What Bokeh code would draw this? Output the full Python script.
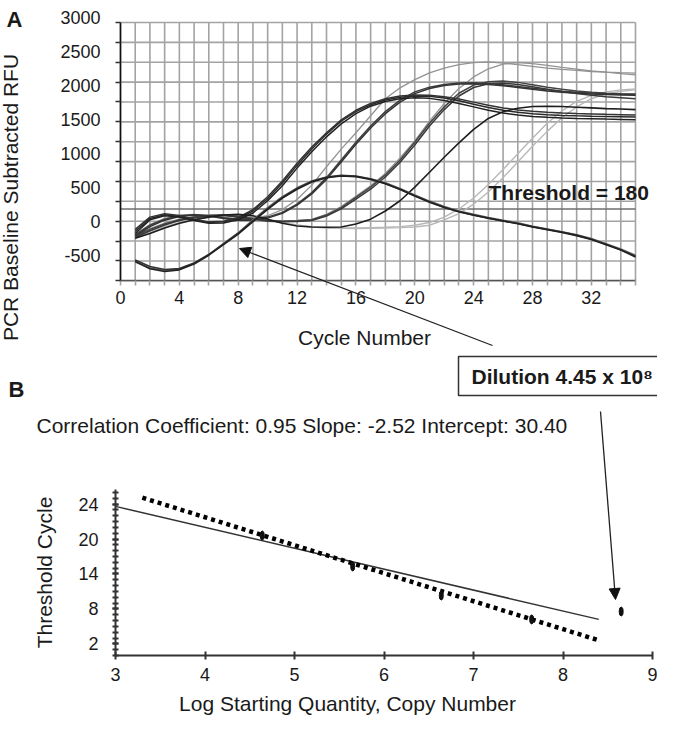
import math
from bokeh.plotting import figure
from bokeh.layouts import column
from bokeh.models import FixedTicker, Label, Arrow, NormalHead, Range1d, LinearAxis
from bokeh.embed import file_html
from bokeh.resources import INLINE

FONT = "Liberation Sans"

# ---------------- Panel A data: amplification curves ----------------
cycles = list(range(1, 36))

hump_a = [-600, -690, -725, -705, -620, -490, -330, -170, 20, 200, 360, 490, 590, 650, 675, 665, 625, 565, 480, 385,
          295, 215, 150, 100, 55, 15, -25, -75, -115, -155, -200, -255, -330, -410, -500]
hump_b = [-570, -665, -710, -695, -615, -490, -335, -180, 5, 185, 345, 480, 585, 645, 670, 660, 620, 555, 470, 375,
          285, 205, 140, 90, 45, 5, -35, -80, -120, -160, -205, -265, -340, -420, -515]
hump_c = [-590, -700, -740, -715, -630, -500, -345, -190, -5, 175, 340, 470, 575, 640, 665, 655, 612, 550, 465, 370,
          280, 200, 138, 88, 42, 2, -38, -85, -125, -165, -212, -270, -345, -425, -525]

early_a = [-150, 40, 95, 70, 20, -20, -10, 40, 150, 330, 560, 820, 1060, 1280, 1470, 1610, 1710, 1780, 1820, 1840,
           1835, 1810, 1770, 1720, 1670, 1630, 1600, 1580, 1565, 1555, 1548, 1542, 1538, 1534, 1530]
early_b = [-120, 60, 110, 85, 30, -10, 0, 55, 170, 360, 590, 850, 1090, 1300, 1490, 1630, 1730, 1800, 1840, 1855,
           1850, 1830, 1795, 1750, 1705, 1665, 1635, 1615, 1600, 1590, 1582, 1576, 1570, 1565, 1560]
early_c = [-180, 20, 80, 60, 10, -30, -25, 20, 120, 300, 520, 780, 1020, 1240, 1430, 1580, 1690, 1760, 1800, 1815,
           1805, 1775, 1730, 1680, 1630, 1590, 1560, 1540, 1528, 1518, 1510, 1505, 1500, 1496, 1492]

mid_a = [-200, -60, 30, 80, 95, 80, 50, 30, 30, 60, 130, 250, 420, 640, 900, 1160, 1400, 1610, 1780, 1900,
         1970, 2010, 2030, 2035, 2025, 2005, 1980, 1955, 1930, 1910, 1895, 1885, 1878, 1872, 1868]
mid_b = [-220, -80, 15, 70, 90, 75, 40, 15, 15, 45, 115, 235, 400, 615, 870, 1130, 1370, 1580, 1750, 1875,
         1950, 1995, 2015, 2020, 2010, 1990, 1965, 1940, 1915, 1895, 1880, 1870, 1862, 1856, 1850]
mid_light = [-190, -50, 40, 90, 100, 85, 55, 35, 40, 80, 170, 320, 530, 800, 1060, 1300, 1550, 1800, 1960, 2080,
             2180, 2250, 2300, 2330, 2340, 2325, 2300, 2275, 2250, 2230, 2215, 2200, 2190, 2182, 2175]

late_a = [-220, -120, -40, 20, 60, 85, 90, 70, 40, 10, 0, 5, 20, 90, 200, 350, 500, 680, 900, 1160,
          1440, 1680, 1880, 2000, 2050, 2060, 2040, 2005, 1970, 1940, 1915, 1895, 1880, 1868, 1860]
late_b = [-240, -140, -55, 10, 50, 78, 82, 62, 30, 0, -10, -5, 10, 75, 180, 325, 470, 650, 865, 1120,
          1400, 1640, 1840, 1965, 2020, 2030, 2010, 1975, 1940, 1905, 1875, 1850, 1830, 1815, 1800]
late_light = [-210, -110, -30, 30, 70, 92, 95, 75, 45, 15, 5, 10, 28, 100, 215, 365, 520, 700, 930, 1180,
              1470, 1730, 1950, 2120, 2240, 2310, 2330, 2315, 2290, 2260, 2235, 2210, 2190, 2170, 2150]

single_dark = [-250, -180, -100, -30, 20, 60, 90, 100, 80, 30, -30, -70, -85, -90, -85, -40, 30, 150, 300, 500,
               720, 940, 1150, 1350, 1510, 1610, 1660, 1685, 1690, 1685, 1675, 1665, 1655, 1648, 1640]

faint_a = [-230, -150, -80, -20, 30, 70, 90, 85, 60, 20, -20, -55, -80, -95, -100, -100, -95, -90, -80, -60,
           -20, 60, 180, 340, 540, 760, 990, 1220, 1440, 1620, 1760, 1850, 1900, 1930, 1945]
faint_b = [-250, -170, -95, -35, 20, 60, 80, 78, 55, 15, -25, -60, -85, -100, -105, -108, -105, -100, -95, -85,
           -60, 20, 110, 250, 430, 640, 870, 1100, 1320, 1520, 1680, 1800, 1870, 1910, 1930]

threshold = 180
a_xticks = [0, 4, 8, 12, 16, 20, 24, 28, 32]
a_yticks = [-500, 0, 500, 1000, 1500, 2000, 2500, 3000]
a_ytick_labels = ["-500", "0", "500", "1000", "1500", "2000", "2500", "3000"]

# ---------------- Panel B data: standard curve ----------------
log_qty = [4.64, 5.65, 6.64, 7.65, 8.65]
threshold_cycle = [20.6, 15.3, 10.3, 6.2, 7.55]
fit_x = [3.0, 8.4]
fit_y = [25.6, 6.2]
trend_x = [3.3, 8.4]
trend_y = [27.1, 2.6]
b_xticks = [3, 4, 5, 6, 7, 8, 9]
b_yticks = [2, 8, 14, 20, 26]
b_ytick_labels = ["2", "8", "14", "20", "24"]

# ---------------- layout constants (pixels / axis extents) ----------------
A_X_LO, A_X_HI = 0, 35            # cycle axis extent
A_Y_LO, A_Y_HI = -876, 2920       # gridded area of panel A
A_GRID_STEP = 292
A_PX_X = 515 / 35                 # px per cycle
A_PX_Y = 258.3 / (A_Y_HI - A_Y_LO)  # px per RFU
A_LEFT, A_TOP, A_H = 120, 22, 405  # canvas position of the gridded area, canvas height
W = 657

B_X_LO, B_X_HI = 3, 9
B_Y_LO, B_Y_HI = 0, 28.5
B_PX_X = 537 / 6
B_PX_Y = 166 / 28.5
B_LEFT, B_BOTTOM, B_H = 115, 250, 313

GRID = "#a3a3a3"


def a_x(px):   # page x -> cycle
    return A_X_LO + (px - 8 - A_LEFT) / A_PX_X


def a_y(py):   # page y -> RFU
    return A_Y_HI - (py - 8 - A_TOP) / A_PX_Y


def b_x(px):
    return B_X_LO + (px - 8 - B_LEFT) / B_PX_X


def b_y(py):
    return B_Y_LO + (B_BOTTOM - (py - 413)) / B_PX_Y


def label(text, x, y, size="21px", style="normal", align="left", angle=0.0, **kw):
    return Label(x=x, y=y, text=text, angle=angle, text_font=FONT, text_font_size=size,
                 text_font_style=style, text_align=align, text_baseline="middle",
                 text_color="#1a1a1a", **kw)


def arrow(x0, y0, x1, y1):
    return Arrow(x_start=x0, y_start=y0, x_end=x1, y_end=y1, line_color="#222222", line_width=1.3,
                 end=NormalHead(size=11, fill_color="#111111", line_color="#111111"))


def bare_figure(xr, yr, height):
    p = figure(width=W, height=height, x_range=xr, y_range=yr, output_backend="svg",
               toolbar_location=None, min_border=0, min_border_left=0, min_border_right=0,
               min_border_top=0, min_border_bottom=0)
    p.title.visible = False
    p.outline_line_color = None
    return p


def tick_axis(ticks, loc, bounds, out, tick_color, line_color):
    ax = LinearAxis(ticker=FixedTicker(ticks=ticks), fixed_location=loc, bounds=bounds,
                    major_tick_in=0, major_tick_out=out, minor_tick_in=0, minor_tick_out=0,
                    major_tick_line_color=tick_color, major_tick_line_width=1.6,
                    axis_line_color=line_color, axis_line_width=1.6,
                    major_label_text_font_size="0px", major_label_standoff=0)
    ax.major_label_overrides = {t: "" for t in ticks}
    return ax


# ================= Panel A =================
ax_lo = A_X_LO - A_LEFT / A_PX_X
ax_hi = A_X_HI + (W - A_LEFT - 515) / A_PX_X
ay_hi = A_Y_HI + A_TOP / A_PX_Y
ay_lo = A_Y_LO - (A_H - A_TOP - 258.3) / A_PX_Y
pa = bare_figure(Range1d(ax_lo, ax_hi), Range1d(ay_lo, ay_hi), A_H)

grid_x = list(range(A_X_LO, A_X_HI + 1))
grid_y = [A_Y_LO + A_GRID_STEP * k for k in range(14)]
pa.grid.visible = False
pa.segment(x0=grid_x, y0=[A_Y_LO] * len(grid_x), x1=grid_x, y1=[A_Y_HI] * len(grid_x),
           line_color=GRID, line_width=1.6)
pa.segment(x0=[A_X_LO] * len(grid_y), y0=grid_y, x1=[A_X_HI] * len(grid_y), y1=grid_y,
           line_color=GRID, line_width=1.6)
pa.segment(x0=[A_X_LO], y0=[threshold], x1=[A_X_HI], y1=[threshold], line_color="#6e6e6e", line_width=1.6)

# tick marks at the gridlines (no labels)
pa.add_layout(tick_axis(grid_y, A_X_LO, (A_Y_LO, A_Y_HI), 5, "#333333", "#111111"), "left")
pa.add_layout(tick_axis(grid_x, A_Y_LO, (A_X_LO, A_X_HI), 5, GRID, "#555555"), "below")

xa, ya = pa.xaxis[0], pa.yaxis[0]
xa.fixed_location = A_Y_LO
xa.bounds = (A_X_LO, A_X_HI)
ya.fixed_location = A_X_LO
ya.bounds = (A_Y_LO, 3000)
xa.ticker = FixedTicker(ticks=a_xticks)
ya.ticker = FixedTicker(ticks=a_yticks)
ya.major_label_overrides = {t: s for t, s in zip(a_yticks, a_ytick_labels)}
for ax in (xa, ya):
    ax.major_tick_in = 0
    ax.major_tick_out = 0
    ax.minor_tick_in = 0
    ax.minor_tick_out = 0
    ax.axis_line_color = None
    ax.major_label_text_font = FONT
    ax.major_label_text_font_size = "18px"
    ax.major_label_text_color = "#1a1a1a"
ya.major_label_standoff = 20
xa.major_label_standoff = 10

faint = "#b8b8b8"
light = "#939393"
for ys, col, lw in [(faint_a, faint, 1.4), (faint_b, faint, 1.4),
                    (mid_light, light, 1.3), (late_light, light, 1.3),
                    (late_a, "#444444", 1.5), (late_b, "#3a3a3a", 1.5),
                    (mid_a, "#3c3c3c", 1.5), (mid_b, "#333333", 1.5),
                    (early_a, "#2a2a2a", 1.5), (early_b, "#333333", 1.5), (early_c, "#222222", 1.5),
                    (single_dark, "#1e1e1e", 1.6),
                    (hump_a, "#6a6a6a", 1.6), (hump_b, "#333333", 1.6), (hump_c, "#222222", 1.6)]:
    pa.line(cycles, ys, line_color=col, line_width=lw)

pa.add_layout(label("A", a_x(22), a_y(27), size="22px", style="bold", align="center"))
pa.add_layout(label("PCR Baseline Subtracted RFU", a_x(18), a_y(205), align="center", angle=math.pi / 2))
pa.add_layout(label("Cycle Number", a_x(372), a_y(345), align="center"))
pa.add_layout(label("Threshold = 180", a_x(496), a_y(200), style="bold"))
pa.add_layout(label("B", a_x(24), a_y(397), size="22px", style="bold", align="center"))
pa.add_layout(label("Dilution 4.45 x 10\u2078", a_x(466), a_y(383.5), style="bold",
                    border_line_color="#333333", border_line_width=1.5, background_fill_color="white",
                    padding=dict(left=13, right=13, top=8, bottom=8)))
pa.add_layout(arrow(a_x(500), a_y(353), a_x(247), a_y(256)))

# ================= Panel B =================
bx_lo = B_X_LO - B_LEFT / B_PX_X
bx_hi = B_X_HI + (W - B_LEFT - 537) / B_PX_X
by_lo = B_Y_LO - (B_H - B_BOTTOM) / B_PX_Y
by_hi = B_Y_LO + B_BOTTOM / B_PX_Y
pb = bare_figure(Range1d(bx_lo, bx_hi), Range1d(by_lo, by_hi), B_H)
pb.grid.visible = False

xb, yb = pb.xaxis[0], pb.yaxis[0]
xb.fixed_location = B_Y_LO
xb.bounds = (B_X_LO, B_X_HI)
yb.fixed_location = B_X_LO
yb.bounds = (B_Y_LO, B_Y_HI)
xb.ticker = FixedTicker(ticks=b_xticks)
yb.ticker = FixedTicker(ticks=b_yticks, minor_ticks=list(range(0, 29)))
yb.major_label_overrides = {t: s for t, s in zip(b_yticks, b_ytick_labels)}
for ax in (xb, yb):
    ax.axis_line_color = "#333333"
    ax.axis_line_width = 2
    ax.major_tick_line_color = "#333333"
    ax.major_tick_line_width = 2
    ax.major_label_text_font = FONT
    ax.major_label_text_font_size = "18px"
    ax.major_label_text_color = "#1a1a1a"
xb.major_tick_in = 4
xb.major_tick_out = 4
xb.minor_tick_line_color = None
xb.major_label_standoff = 8
yb.major_tick_in = 3
yb.major_tick_out = 3
yb.minor_tick_in = 3
yb.minor_tick_out = 3
yb.minor_tick_line_color = "#333333"
yb.minor_tick_line_width = 2
yb.major_label_standoff = 14

pb.line(fit_x, fit_y, line_color="#333333", line_width=1.5)
pb.line(trend_x, trend_y, line_color="#000000", line_width=4.5, line_dash="4 4")
pb.ellipse(x=log_qty, y=threshold_cycle, width=4, height=9, width_units="screen", height_units="screen",
           fill_color="#111111", line_color="#111111")

pb.add_layout(label("Correlation Coefficient: 0.95 Slope: -2.52 Intercept: 30.40", b_x(44), b_y(433)))
pb.add_layout(label("Threshold Cycle", b_x(52), b_y(580), align="center", angle=math.pi / 2))
pb.add_layout(label("Log Starting Quantity, Copy Number", b_x(355), b_y(711), align="center"))
pb.add_layout(arrow(b_x(608), b_y(419), b_x(623), b_y(607)))

layout = column(pa, pb)
open("out.html", "w").write(file_html(layout, INLINE))
